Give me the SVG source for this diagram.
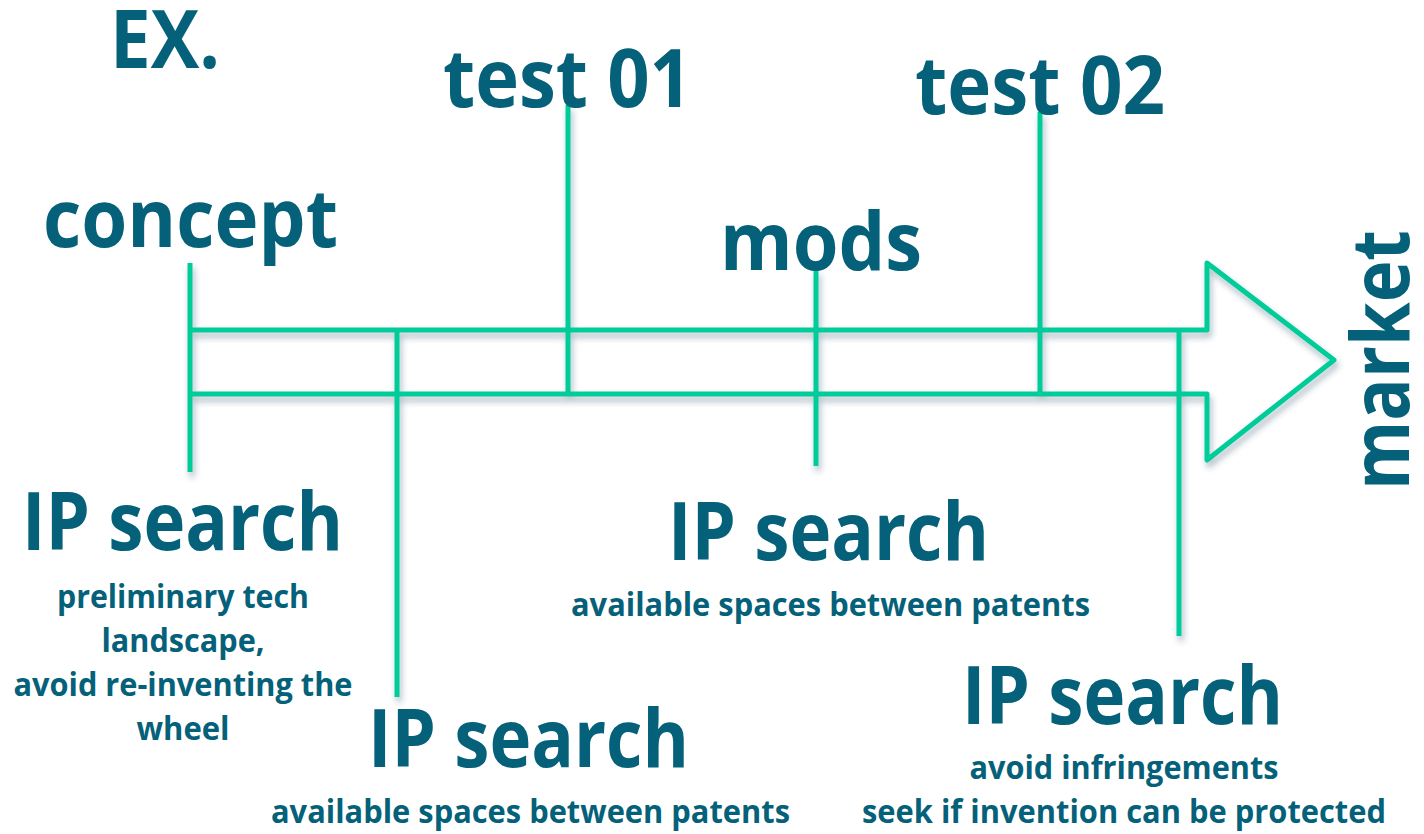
<svg xmlns="http://www.w3.org/2000/svg" width="1424" height="834" viewBox="0 0 1424 834">
<defs>
<filter id="sh" x="-20%" y="-20%" width="140%" height="140%">
<feDropShadow dx="2" dy="5" stdDeviation="3" flood-color="#1f3a5a" flood-opacity="0.35"/>
</filter>
<style>
.t{font-family:"Open Sans","Liberation Sans",sans-serif;font-weight:700;fill:#05617a}
.big{font-size:81px}
.sm{font-size:33px}
.ln{fill:none;stroke:#00cc99;stroke-width:5;stroke-linecap:butt;stroke-linejoin:round}
</style>
</defs>
<rect width="1424" height="834" fill="#ffffff"/>
<g id="connectors" filter="url(#sh)">
<path class="ln" d="M190,330 H1207 V263 L1334,360 L1207,460 V394 H190"/>
<line class="ln" x1="190" y1="263" x2="190" y2="472"/>
<line class="ln" x1="397" y1="330" x2="397" y2="697"/>
<line class="ln" x1="568" y1="105" x2="568" y2="396"/>
<line class="ln" x1="816" y1="270" x2="816" y2="466"/>
<line class="ln" x1="1040" y1="112" x2="1040" y2="393"/>
<line class="ln" x1="1179" y1="330" x2="1179" y2="636"/>
</g>
<g id="ex"><text class="t big" x="110" y="68" textLength="110" lengthAdjust="spacingAndGlyphs">EX.</text></g>
<g id="test01"><text class="t big" x="443" y="107" textLength="249" lengthAdjust="spacingAndGlyphs">test 01</text></g>
<g id="test02"><text class="t big" x="915" y="114" textLength="250" lengthAdjust="spacingAndGlyphs">test 02</text></g>
<g id="concept"><text class="t big" x="43" y="247" textLength="295" lengthAdjust="spacingAndGlyphs">concept</text></g>
<g id="mods"><text class="t big" x="720" y="270" textLength="202" lengthAdjust="spacingAndGlyphs">mods</text></g>
<g id="market"><text class="t big" transform="translate(1409,360) rotate(-90)" x="0" y="0" text-anchor="middle" textLength="260" lengthAdjust="spacingAndGlyphs">market</text></g>
<g id="ip1">
<text class="t big" x="22" y="550" textLength="321" lengthAdjust="spacingAndGlyphs">IP search</text>
<text class="t sm" x="183" y="608" text-anchor="middle" textLength="252" lengthAdjust="spacingAndGlyphs">preliminary tech</text>
<text class="t sm" x="183" y="652" text-anchor="middle" textLength="163" lengthAdjust="spacingAndGlyphs">landscape,</text>
<text class="t sm" x="183" y="696" text-anchor="middle" textLength="339" lengthAdjust="spacingAndGlyphs">avoid re-inventing the</text>
<text class="t sm" x="183" y="740" text-anchor="middle" textLength="93" lengthAdjust="spacingAndGlyphs">wheel</text>
</g>
<g id="ip2">
<text class="t big" x="668" y="560" textLength="321" lengthAdjust="spacingAndGlyphs">IP search</text>
<text class="t sm" x="571" y="616" textLength="519" lengthAdjust="spacingAndGlyphs">available spaces between patents</text>
</g>
<g id="ip3">
<text class="t big" x="368" y="767" textLength="321" lengthAdjust="spacingAndGlyphs">IP search</text>
<text class="t sm" x="271" y="823" textLength="519" lengthAdjust="spacingAndGlyphs">available spaces between patents</text>
</g>
<g id="ip4">
<text class="t big" x="962" y="724" textLength="321" lengthAdjust="spacingAndGlyphs">IP search</text>
<text class="t sm" x="1124" y="779" text-anchor="middle" textLength="309" lengthAdjust="spacingAndGlyphs">avoid infringements</text>
<text class="t sm" x="1124" y="823" text-anchor="middle" textLength="524" lengthAdjust="spacingAndGlyphs">seek if invention can be protected</text>
</g>
</svg>
